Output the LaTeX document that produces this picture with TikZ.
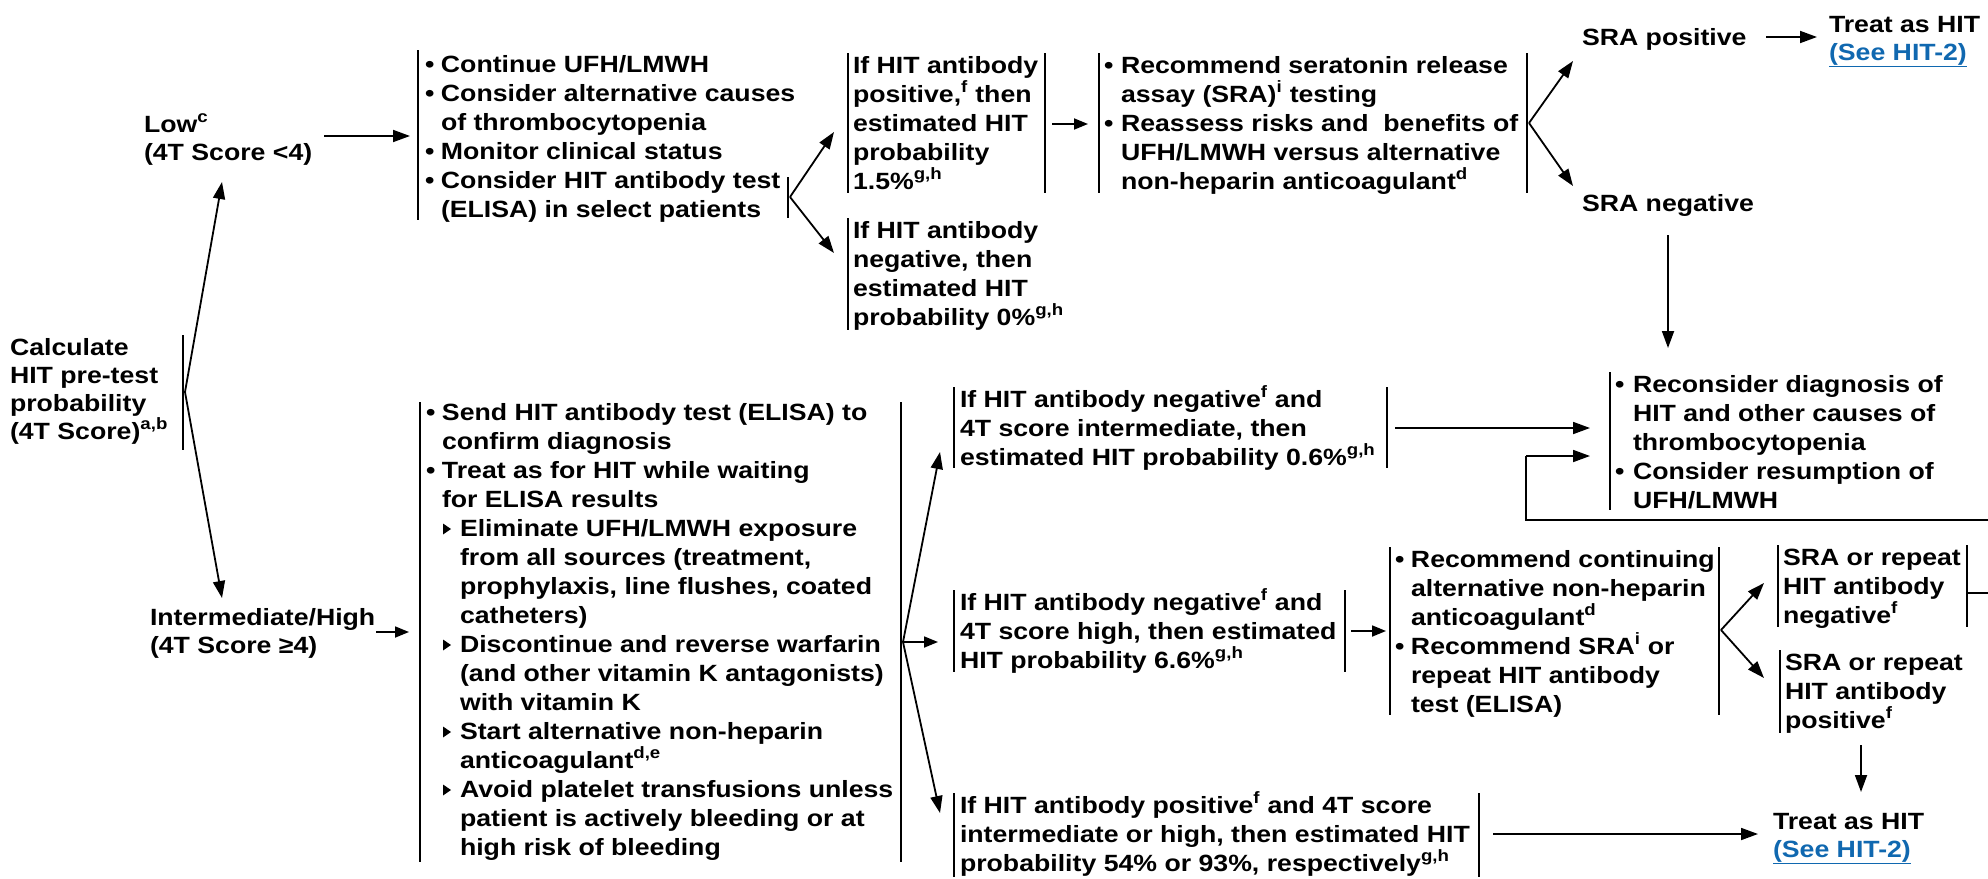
\documentclass[tikz,border=0pt]{standalone}
\usepackage{fontspec}
\setmainfont{Liberation Sans}[FakeStretch=1.135]
\usetikzlibrary{arrows.meta}
\definecolor{linkblue}{RGB}{16,104,176}
\newcommand\tb[1]{\begin{tabular}[t]{@{}l@{}}#1\end{tabular}}
\newcommand\su[1]{\smash{\textsuperscript{#1}}}
\newcommand\bu[1][16pt]{\makebox[#1][l]{•}}
\newcommand\ind[1][16pt]{\hspace*{#1}}
\newcommand\tri{\tikz[baseline=0pt,x=1pt,y=1pt]\fill[black] (0,1.5) -- (0,12.5) -- (8,7) -- cycle;}
\newcommand\sbu{\hspace*{17pt}\makebox[17pt][l]{\tri}}
\newcommand\sind{\hspace*{34pt}}
\newcommand\lnk[1]{{\color{linkblue}\underline{#1}}}
\begin{document}
\begin{tikzpicture}[x=1pt,y=-1pt,
  font=\fontsize{23.5}{29}\selectfont\bfseries,
  txt/.style={anchor=base west,inner sep=0pt,outer sep=0pt},
  bar/.style={line width=1.8pt},
  arr/.style={line width=1.8pt,-{Triangle[length=17pt,width=12pt]}},
  sarr/.style={line width=1.8pt,-{Triangle[length=14pt,width=11pt]}}]
\useasboundingbox (0,0) rectangle (1988,878);

% ---------- text nodes ----------
\node[txt] (calc) at (10,355) {\tb{Calculate\\[-1pt]HIT pre-test\\[-1pt]probability\\[-1pt](4T Score)\su{a,b}}};
\node[txt] (low) at (144,132) {\tb{Low\su{c}\\[-1pt](4T Score <4)}};
\node[txt] (ih) at (150,625) {\tb{Intermediate/High\\[-1pt](4T Score ≥4)}};

\node[txt] (b1) at (425,72) {\tb{\bu Continue UFH/LMWH\\
\bu Consider alternative causes\\
\ind of thrombocytopenia\\
\bu Monitor clinical status\\
\bu Consider HIT antibody test\\
\ind (ELISA) in select patients}};

\node[txt] (pos) at (853,73) {\tb{If HIT antibody\\positive,\su{f} then\\estimated HIT\\probability\\1.5\%\su{g,h}}};
\node[txt] (neg) at (853,238) {\tb{If HIT antibody\\negative, then\\estimated HIT\\probability 0\%\su{g,h}}};

\node[txt] (sra) at (1104,73) {\tb{\bu[17pt]Recommend seratonin release\\
\ind[17pt]assay (SRA)\su{i} testing\\
\bu[17pt]Reassess risks and~ benefits of\\
\ind[17pt]UFH/LMWH versus alternative\\
\ind[17pt]non-heparin anticoagulant\su{d}}};

\node[txt] (srapos) at (1582,45) {SRA positive};
\node[txt] (sraneg) at (1582,211) {SRA negative};
\node[txt] (treat1) at (1829,32) {\tb{Treat as HIT\\[-1pt]\lnk{(See HIT-2)}}};

\node[txt] (recon) at (1615,392) {\tb{\bu[18pt]Reconsider diagnosis of\\
\ind[18pt]HIT and other causes of\\
\ind[18pt]thrombocytopenia\\
\bu[18pt]Consider resumption of\\
\ind[18pt]UFH/LMWH}};

\node[txt] (b2) at (426,420) {\tb{\bu Send HIT antibody test (ELISA) to\\
\ind confirm diagnosis\\
\bu Treat as for HIT while waiting\\
\ind for ELISA results\\
\sbu Eliminate UFH/LMWH exposure\\
\sind from all sources (treatment,\\
\sind prophylaxis, line flushes, coated\\
\sind catheters)\\
\sbu Discontinue and reverse warfarin\\
\sind (and other vitamin K antagonists)\\
\sind with vitamin K\\
\sbu Start alternative non-heparin\\
\sind anticoagulant\su{d,e}\\
\sbu Avoid platelet transfusions unless\\
\sind patient is actively bleeding or at\\
\sind high risk of bleeding}};

\node[txt] (int) at (960,407) {\tb{If HIT antibody negative\su{f} and\\4T score intermediate, then\\estimated HIT probability 0.6\%\su{g,h}}};
\node[txt] (high) at (960,610) {\tb{If HIT antibody negative\su{f} and\\4T score high, then estimated\\HIT probability 6.6\%\su{g,h}}};
\node[txt] (rec) at (1395,567) {\tb{\bu[16pt]Recommend continuing\\
\ind[16pt]alternative non-heparin\\
\ind[16pt]anticoagulant\su{d}\\
\bu[16pt]Recommend SRA\su{i} or\\
\ind[16pt]repeat HIT antibody\\
\ind[16pt]test (ELISA)}};
\node[txt] (negrep) at (1783,565) {\tb{SRA or repeat\\HIT antibody\\negative\su{f}}};
\node[txt] (posrep) at (1785,670) {\tb{SRA or repeat\\HIT antibody\\positive\su{f}}};
\node[txt] (posb) at (960,813) {\tb{If HIT antibody positive\su{f} and 4T score\\intermediate or high, then estimated HIT\\probability 54\% or 93\%, respectively\su{g,h}}};
\node[txt] (treat2) at (1773,829) {\tb{Treat as HIT\\[-1pt]\lnk{(See HIT-2)}}};

% ---------- bars ----------
\draw[bar] (183,335) -- (183,450);
\draw[bar] (418,50) -- (418,220);
\draw[bar] (788,177) -- (788,218);
\draw[bar] (848,53) -- (848,193);
\draw[bar] (1045,53) -- (1045,193);
\draw[bar] (848,218) -- (848,330);
\draw[bar] (1099,53) -- (1099,193);
\draw[bar] (1527,53) -- (1527,193);
\draw[bar] (1610,372) -- (1610,510);
\draw[bar] (420,402) -- (420,862);
\draw[bar] (901,402) -- (901,862);
\draw[bar] (954,387) -- (954,468);
\draw[bar] (1387,387) -- (1387,468);
\draw[bar] (954,590) -- (954,672);
\draw[bar] (1345,590) -- (1345,672);
\draw[bar] (1390,547) -- (1390,715);
\draw[bar] (1719,547) -- (1719,715);
\draw[bar] (1778,545) -- (1778,627);
\draw[bar] (1967,545) -- (1967,627);
\draw[bar] (1780,650) -- (1780,733);
\draw[bar] (954,793) -- (954,877);
\draw[bar] (1479,793) -- (1479,877);

% ---------- connector coordinates ----------
\coordinate (calcF) at (185,392);
\coordinate (lowIn) at (222,182);
\coordinate (ihIn) at (222,598);
\coordinate (lowOut) at (324,136);
\coordinate (b1In) at (410,136);
\coordinate (ihOut) at (376,632);
\coordinate (b2In) at (409,632);
\coordinate (b1F) at (790,197);
\coordinate (posIn) at (834,132);
\coordinate (negIn) at (834,253);
\coordinate (posOut) at (1052,124);
\coordinate (sraIn) at (1088,124);
\coordinate (sraF) at (1529,123);
\coordinate (sraposIn) at (1573,61);
\coordinate (sranegIn) at (1573,186);
\coordinate (sraposOut) at (1766,37);
\coordinate (treat1In) at (1817,37);
\coordinate (sranegOut) at (1668,235);
\coordinate (reconTop) at (1668,348);
\coordinate (b2F) at (903,642);
\coordinate (intIn) at (940,452);
\coordinate (highIn) at (938,642);
\coordinate (posbIn) at (940,813);
\coordinate (intOut) at (1395,428);
\coordinate (reconIn1) at (1590,428);
\coordinate (reconIn2) at (1590,456);
\coordinate (fbCorner) at (1526,456);
\coordinate (negrepOut) at (1968,593);
\coordinate (highOut) at (1351,631);
\coordinate (recIn) at (1386,631);
\coordinate (recF) at (1721,630);
\coordinate (negrepIn) at (1764,583);
\coordinate (posrepIn) at (1764,678);
\coordinate (posrepOut) at (1861,745);
\coordinate (treat2Top) at (1861,792);
\coordinate (posbOut) at (1493,834);
\coordinate (treat2In) at (1758,834);

% ---------- connectors ----------
\draw[arr] (calcF) -- (lowIn);
\draw[arr] (calcF) -- (ihIn);
\draw[arr] (lowOut) -- (b1In);
\draw[sarr] (ihOut) -- (b2In);
\draw[arr] (b1F) -- (posIn);
\draw[arr] (b1F) -- (negIn);
\draw[sarr] (posOut) -- (sraIn);
\draw[arr] (sraF) -- (sraposIn);
\draw[arr] (sraF) -- (sranegIn);
\draw[arr] (sraposOut) -- (treat1In);
\draw[arr] (sranegOut) -- (reconTop);
\draw[arr] (b2F) -- (intIn);
\draw[sarr] (b2F) -- (highIn);
\draw[arr] (b2F) -- (posbIn);
\draw[arr] (intOut) -- (reconIn1);
\draw[line width=2.2pt] (negrepOut) -- (1996,593) -- (1996,520) -- (1526,520) -- (fbCorner);
\draw[arr] (fbCorner) -- (reconIn2);
\draw[sarr] (highOut) -- (recIn);
\draw[arr] (recF) -- (negrepIn);
\draw[arr] (recF) -- (posrepIn);
\draw[arr] (posrepOut) -- (treat2Top);
\draw[arr] (posbOut) -- (treat2In);
\end{tikzpicture}
\end{document}
